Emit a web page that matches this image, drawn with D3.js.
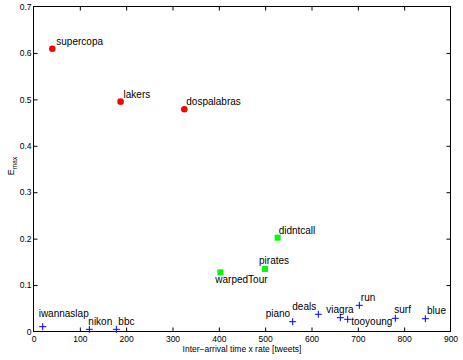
<!DOCTYPE html>
<html>
<head>
<meta charset="utf-8">
<script src="https://cdn.jsdelivr.net/npm/d3@7"></script>
<style>
  html, body { margin: 0; padding: 0; background: #fff; }
  svg { display: block; font-family: "Liberation Sans", Arial, Helvetica, sans-serif; }
</style>
</head>
<body>
<svg id="chart" width="463" height="360"></svg>
<script>
// ---- data ----
const redNames = ["supercopa", "lakers", "dospalabras"];
const redX = [41.7, 189, 326.6];
const redY = [0.608, 0.494, 0.4775];

const greenNames = ["didntcall", "pirates", "warpedTour"];
const greenX = [528, 500.8, 404.3];
const greenY = [0.201, 0.1335, 0.1264];

const blueNames = ["iwannaslap", "nikon", "bbc", "piano", "deals", "viagra", "tooyoung", "run", "surf", "blue"];
const blueX = [20.9, 121.6, 179.9, 560.5, 615.8, 663.3, 679.2, 704.3, 782, 846.8];
const blueY = [0.0093, 0.0036, 0.0036, 0.020, 0.036, 0.0287, 0.0252, 0.0553, 0.0273, 0.0265];

const xTicks = [0, 100, 200, 300, 400, 500, 600, 700, 800, 900];
const yTicks = [0, 0.1, 0.2, 0.3, 0.4, 0.5, 0.6, 0.7];
const xLabel = "Inter\u2212arrival time x rate [tweets]";

// label offsets (pixels) relative to each marker
const redLabelOff = [[4, -4], [3, -4], [2, -4]];
const greenLabelOff = [[1, -4], [-6, -5], [-5, 11]];
const blueLabelOff = [[-4, -10], [-1, -4], [2, -4], [-27, -5], [-26, -4], [-14, -4.5], [3.5, 5.5], [1.5, -4.5], [-1, -5], [1.7, -5]];

// ---- layout ----
const svg = d3.select("#chart");
const L = 33, R = 450, T = 6, B = 331;
const x = d3.scaleLinear().domain([0, 900]).range([L, R]);
const y = d3.scaleLinear().domain([0, 0.7]).range([B, T]);

const g = svg.append("g");

// box
g.append("rect").attr("x", L + 0.5).attr("y", T + 0.5)
  .attr("width", R - L).attr("height", B - T)
  .attr("fill", "none").attr("stroke", "#000").attr("stroke-width", 1);

const tickLen = 4;
const tickFont = 8.5;
// x ticks (bottom & top, inward)
const xAxisB = d3.axisBottom(x).tickValues(xTicks).tickSizeInner(-tickLen).tickSizeOuter(0).tickPadding(4)
  .tickFormat(d3.format("d"));
const gxb = g.append("g").attr("transform", `translate(0.5,${B + 0.5})`).call(xAxisB);
const xAxisT = d3.axisTop(x).tickValues(xTicks).tickSizeInner(-tickLen).tickSizeOuter(0).tickFormat("");
const gxt = g.append("g").attr("transform", `translate(0.5,${T + 0.5})`).call(xAxisT);

const yAxisL = d3.axisLeft(y).tickValues(yTicks).tickSizeInner(-tickLen).tickSizeOuter(0).tickPadding(2)
  .tickFormat(d => d === 0 ? "0" : d3.format(".1f")(d));
const gyl = g.append("g").attr("transform", `translate(${L + 0.5},0.5)`).call(yAxisL);
const yAxisR = d3.axisRight(y).tickValues(yTicks).tickSizeInner(-tickLen).tickSizeOuter(0).tickFormat("");
const gyr = g.append("g").attr("transform", `translate(${R + 0.5},0.5)`).call(yAxisR);

[gxb, gxt, gyl, gyr].forEach(a => {
  a.select(".domain").remove();
  a.selectAll("line").attr("stroke", "#000");
  a.selectAll("text").attr("font-family", "Liberation Sans, Arial, sans-serif").attr("font-size", tickFont).attr("fill", "#000");
});
// hide ticks at the corners that coincide with the box
gxt.selectAll(".tick").filter(d => d === 0 || d === 900).remove();
gyr.selectAll(".tick").filter(d => d === 0 || d === 0.7).remove();
gxb.selectAll(".tick").filter(d => d === 0 || d === 900).select("line").remove();
gyl.selectAll(".tick").filter(d => d === 0 || d === 0.7).select("line").remove();

// axis labels
svg.append("text").attr("x", 242).attr("y", 351.5)
  .attr("text-anchor", "middle").attr("font-size", 8.5).attr("fill", "#000").text(xLabel);

const yl = svg.append("text").attr("transform", "translate(13.5,166) rotate(-90)")
  .attr("text-anchor", "middle").attr("font-size", 9).attr("fill", "#000");
yl.append("tspan").text("E");
yl.append("tspan").attr("font-size", 6.5).attr("dy", 3).text("max");

// ---- markers ----
const lblSize = 10;
function labels(names, xs, ys, offs) {
  svg.append("g").selectAll("text").data(names).join("text")
    .attr("x", (d, i) => x(xs[i]) + offs[i][0])
    .attr("y", (d, i) => y(ys[i]) + offs[i][1])
    .attr("font-size", lblSize).attr("fill", "#000").text(d => d);
}

svg.append("g").selectAll("circle").data(redX).join("circle")
  .attr("cx", (d) => x(d)).attr("cy", (d, i) => y(redY[i])).attr("r", 3.3)
  .attr("fill", "#ff0000");

const sq = 6;
svg.append("g").selectAll("rect").data(greenX).join("rect")
  .attr("x", d => x(d) - sq / 2).attr("y", (d, i) => y(greenY[i]) - sq / 2)
  .attr("width", sq).attr("height", sq).attr("fill", "#00ff00");

const ps = 3.5;
svg.append("g").selectAll("path").data(blueX).join("path")
  .attr("d", (d, i) => {
    const cx = x(d), cy = y(blueY[i]);
    return `M${cx - ps},${cy}H${cx + ps}M${cx},${cy - ps}V${cy + ps}`;
  })
  .attr("stroke", "#0000ff").attr("stroke-width", 1).attr("fill", "none");

labels(redNames, redX, redY, redLabelOff);
labels(greenNames, greenX, greenY, greenLabelOff);
labels(blueNames, blueX, blueY, blueLabelOff);
</script>
</body>
</html>
